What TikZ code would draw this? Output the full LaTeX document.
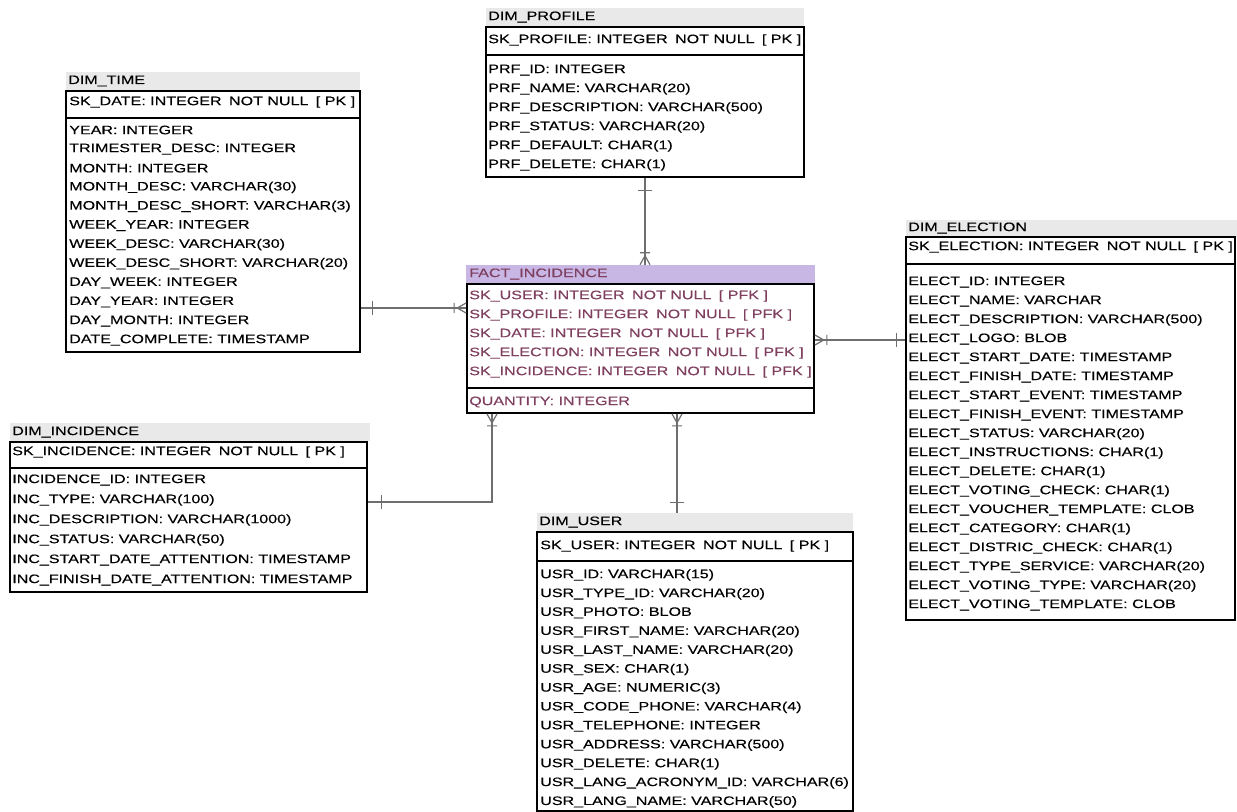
\documentclass[tikz,border=0pt]{standalone}
\usepackage{fontspec}
\setmainfont{Liberation Sans}[FakeStretch=1.31, FakeBold=0.3]
\usetikzlibrary{fit,calc}
\definecolor{factfg}{HTML}{7F3F5F}
\definecolor{factbar}{HTML}{C8B6E4}
\definecolor{dimbar}{HTML}{E9E9E9}
\definecolor{linkgray}{HTML}{6E6E6E}
\newcommand\gp{\hspace{0.6em}}
\tikzset{
  tbl/.style={draw=black, line width=1.3pt, inner sep=0pt},
  bar/.style={fill=#1, draw=none, inner sep=0pt},
  sepline/.style={draw=black, line width=1.1pt},
  txt/.style={anchor=west, inner sep=0pt, font=\fontsize{9.2}{11}\selectfont},
  facttxt/.style={txt, text=factfg},
  link/.style={draw=linkgray, line width=1.5pt},
  footline/.style={draw=linkgray, line width=0.9pt},
  pics/manyend/.style={code={
    \draw[footline] (-9,0) -- (0,-5) (-9,0) -- (0,0) (-9,0) -- (0,5) (-12,-5) -- (-12,5);}},
  pics/oneend/.style={code={\draw[footline] (0,-7) -- (0,7);}}
}
\begin{document}
\begin{tikzpicture}[x=0.75pt,y=-0.75pt]
\useasboundingbox (0,0) rectangle (1237,812);

% ---------- DIM_PROFILE ----------
\node[bar=dimbar, fit={(486,8) (804,26)}] (profile-bar) {};
\node[txt] (profile-title) at (488,17) {DIM\_PROFILE};
\node[tbl, fit={(486,27) (804,177)}] (profile) {};
\node[txt] (profile-pk) at (488,40) {SK\_PROFILE: INTEGER\gp NOT NULL\gp [ PK ]};
\draw[sepline] (profile.west |- 0,55) -- (profile.east |- 0,55);
\foreach \r [count=\i] in {PRF\_ID: INTEGER, PRF\_NAME: VARCHAR(20), PRF\_DESCRIPTION: VARCHAR(500),
  PRF\_STATUS: VARCHAR(20), PRF\_DEFAULT: CHAR(1), PRF\_DELETE: CHAR(1)}
  \node[txt] (profile-r\i) at (488,{70+19*(\i-1)}) {\r};

% ---------- DIM_TIME ----------
\node[bar=dimbar, fit={(66,72) (360,90)}] (time-bar) {};
\node[txt] (time-title) at (68,81) {DIM\_TIME};
\node[tbl, fit={(66,91) (360,352)}] (time) {};
\node[txt] (time-pk) at (69,102) {SK\_DATE: INTEGER\gp NOT NULL\gp [ PK ]};
\draw[sepline] (time.west |- 0,118) -- (time.east |- 0,118);
\foreach \r [count=\i] in {YEAR: INTEGER, TRIMESTER\_DESC: INTEGER, MONTH: INTEGER,
  MONTH\_DESC: VARCHAR(30), MONTH\_DESC\_SHORT: VARCHAR(3), WEEK\_YEAR: INTEGER,
  WEEK\_DESC: VARCHAR(30), WEEK\_DESC\_SHORT: VARCHAR(20), DAY\_WEEK: INTEGER,
  DAY\_YEAR: INTEGER, DAY\_MONTH: INTEGER, DATE\_COMPLETE: TIMESTAMP}
  \node[txt] (time-r\i) at (69,{130+19.1*(\i-1)}) {\r};

% ---------- FACT_INCIDENCE ----------
\node[bar=factbar, fit={(466,265) (815,283)}] (fact-bar) {};
\node[facttxt] (fact-title) at (469,274) {FACT\_INCIDENCE};
\node[tbl, fit={(467,284) (814,413)}] (fact) {};
\foreach \r [count=\i] in {SK\_USER, SK\_PROFILE, SK\_DATE, SK\_ELECTION, SK\_INCIDENCE}
  \node[facttxt] (fact-r\i) at (469,{296+19*(\i-1)}) {\r: INTEGER\gp NOT NULL\gp [ PFK ]};
\draw[sepline] (fact.west |- 0,388) -- (fact.east |- 0,388);
\node[facttxt] (fact-qty) at (469,402) {QUANTITY: INTEGER};

% ---------- DIM_ELECTION ----------
\node[bar=dimbar, fit={(906,220) (1237,237)}] (election-bar) {};
\node[txt] (election-title) at (908,228) {DIM\_ELECTION};
\node[tbl, fit={(906,237) (1235,620)}] (election) {};
\node[txt] (election-pk) at (908,247) {SK\_ELECTION: INTEGER\gp NOT NULL\gp [ PK ]};
\draw[sepline] (election.west |- 0,264) -- (election.east |- 0,264);
\foreach \r [count=\i] in {ELECT\_ID: INTEGER, ELECT\_NAME: VARCHAR, ELECT\_DESCRIPTION: VARCHAR(500),
  ELECT\_LOGO: BLOB, ELECT\_START\_DATE: TIMESTAMP, ELECT\_FINISH\_DATE: TIMESTAMP,
  ELECT\_START\_EVENT: TIMESTAMP, ELECT\_FINISH\_EVENT: TIMESTAMP, ELECT\_STATUS: VARCHAR(20),
  ELECT\_INSTRUCTIONS: CHAR(1), ELECT\_DELETE: CHAR(1), ELECT\_VOTING\_CHECK: CHAR(1),
  ELECT\_VOUCHER\_TEMPLATE: CLOB, ELECT\_CATEGORY: CHAR(1), ELECT\_DISTRIC\_CHECK: CHAR(1),
  ELECT\_TYPE\_SERVICE: VARCHAR(20), ELECT\_VOTING\_TYPE: VARCHAR(20), ELECT\_VOTING\_TEMPLATE: CLOB}
  \node[txt] (election-r\i) at (908,{282+19*(\i-1)}) {\r};

% ---------- DIM_INCIDENCE ----------
\node[bar=dimbar, fit={(10,423) (370,441)}] (incidence-bar) {};
\node[txt] (incidence-title) at (12,432) {DIM\_INCIDENCE};
\node[tbl, fit={(10,442) (367,592)}] (incidence) {};
\node[txt] (incidence-pk) at (12,452) {SK\_INCIDENCE: INTEGER\gp NOT NULL\gp [ PK ]};
\draw[sepline] (incidence.west |- 0,468) -- (incidence.east |- 0,468);
\foreach \r [count=\i] in {INCIDENCE\_ID: INTEGER, INC\_TYPE: VARCHAR(100), INC\_DESCRIPTION: VARCHAR(1000),
  INC\_STATUS: VARCHAR(50), INC\_START\_DATE\_ATTENTION: TIMESTAMP, INC\_FINISH\_DATE\_ATTENTION: TIMESTAMP}
  \node[txt] (incidence-r\i) at (12,{480+20*(\i-1)}) {\r};

% ---------- DIM_USER ----------
\node[bar=dimbar, fit={(537,513) (853,531)}] (user-bar) {};
\node[txt] (user-title) at (539,522) {DIM\_USER};
\node[tbl, fit={(537,532) (853,811)}] (user) {};
\node[txt] (user-pk) at (540,546) {SK\_USER: INTEGER\gp NOT NULL\gp [ PK ]};
\draw[sepline] (user.west |- 0,561) -- (user.east |- 0,561);
\foreach \r [count=\i] in {USR\_ID: VARCHAR(15), USR\_TYPE\_ID: VARCHAR(20), USR\_PHOTO: BLOB,
  USR\_FIRST\_NAME: VARCHAR(20), USR\_LAST\_NAME: VARCHAR(20), USR\_SEX: CHAR(1),
  USR\_AGE: NUMERIC(3), USR\_CODE\_PHONE: VARCHAR(4), USR\_TELEPHONE: INTEGER,
  USR\_ADDRESS: VARCHAR(500), USR\_DELETE: CHAR(1), USR\_LANG\_ACRONYM\_ID: VARCHAR(6),
  USR\_LANG\_NAME: VARCHAR(50)}
  \node[txt] (user-r\i) at (540,{575+18.9*(\i-1)}) {\r};

% ---------- relationships ----------
% DIM_TIME 1 -- n FACT_INCIDENCE
\draw[link] (time.east |- 0,308) -- (fact.west |- 0,308);
\pic at ($(time.east |- 0,308)+(12,0)$) {oneend};
\pic at (fact.west |- 0,308) {manyend};

% DIM_PROFILE 1 -- n FACT_INCIDENCE
\draw[link] (profile.south -| 645,0) -- (fact-bar.north -| 645,0);
\pic[rotate=90] at ($(profile.south -| 645,0)+(0,13)$) {oneend};
\pic[rotate=-90] at (fact-bar.north -| 645,0) {manyend};

% FACT_INCIDENCE n -- 1 DIM_ELECTION
\draw[link] (fact.east |- 0,340) -- (election.west |- 0,340);
\pic[rotate=180] at (fact.east |- 0,340) {manyend};
\pic at ($(election.west |- 0,340)+(-9,0)$) {oneend};

% FACT_INCIDENCE n -- 1 DIM_INCIDENCE
\draw[link] (fact.south -| 492,0) |- (incidence.east |- 0,502);
\pic[rotate=90] at (fact.south -| 492,0) {manyend};
\pic at ($(incidence.east |- 0,502)+(14,0)$) {oneend};

% FACT_INCIDENCE n -- 1 DIM_USER
\draw[link] (fact.south -| 677,0) -- (user-bar.north -| 677,0);
\pic[rotate=90] at (fact.south -| 677,0) {manyend};
\pic[rotate=90] at ($(user-bar.north -| 677,0)+(0,-10)$) {oneend};
\end{tikzpicture}
\end{document}
